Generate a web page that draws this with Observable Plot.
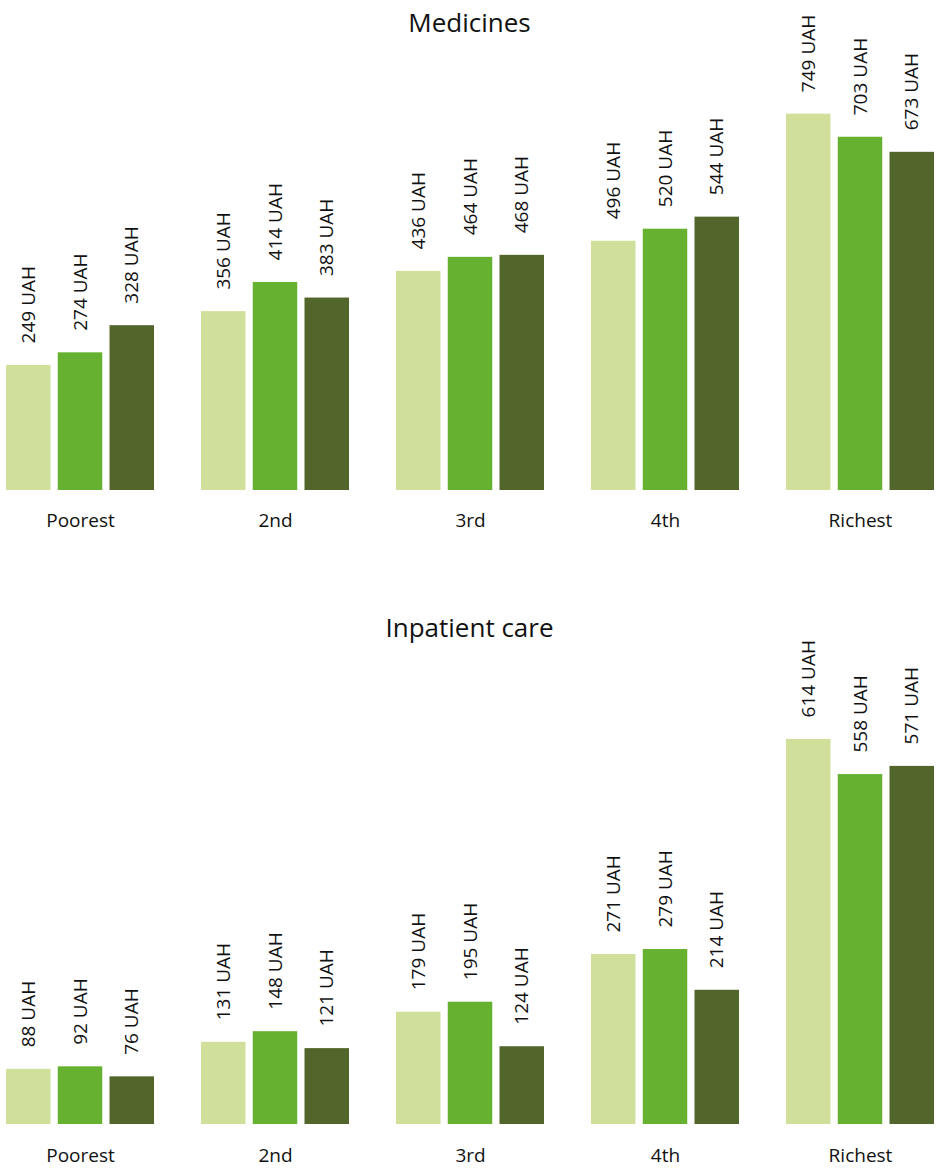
<!DOCTYPE html>
<html>
<head>
<meta charset="utf-8">
<script src="https://cdn.jsdelivr.net/npm/d3@7"></script>
<script src="https://cdn.jsdelivr.net/npm/@observablehq/plot@0.6"></script>
<style>
  body { margin: 0; background: #fff; font-family: "Open Sans", "Noto Sans", sans-serif; }
  #wrap { position: relative; width: 939px; }
  .title { position: absolute; left: 0; width: 939px; height: 44px; line-height: 44px; text-align: center; font-size: 26px; color: #111; pointer-events: none; }
  svg { display: block; }
</style>
</head>
<body>
<div id="wrap">
  <div class="title" style="top:0px">Medicines</div>
  <div class="title" style="top:605px">Inpatient care</div>
</div>
<script>
const groups = ["Poorest", "2nd", "3rd", "4th", "Richest"];
const series = ["Series 1", "Series 2", "Series 3"];
const colors = ["#d0e09b", "#66b230", "#52652b"];

const medicines1 = [249, 356, 436, 496, 749];
const medicines2 = [274, 414, 464, 520, 703];
const medicines3 = [328, 383, 468, 544, 673];

const inpatient1 = [88, 131, 179, 271, 614];
const inpatient2 = [92, 148, 195, 279, 558];
const inpatient3 = [76, 121, 124, 214, 571];

function table(arrs) {
  const rows = [];
  groups.forEach((g, i) => {
    arrs.forEach((a, j) => rows.push({group: g, series: series[j], value: a[i]}));
  });
  return rows;
}

function chart(data, yMax, height, marginTop, marginBottom, labelDy) {
  return Plot.plot({
    width: 939,
    height,
    marginLeft: 6,
    marginRight: 5,
    marginTop,
    marginBottom,
    style: {fontFamily: '"Open Sans", "Noto Sans", sans-serif', overflow: "visible"},
    fx: {domain: groups, paddingInner: 0.241, paddingOuter: 0, round: false, axis: null, label: null},
    x: {domain: series, paddingInner: 0.14, paddingOuter: 0, round: false, axis: null},
    y: {domain: [0, yMax], axis: null},
    color: {domain: series, range: colors},
    marks: [
      Plot.barY(data, {fx: "group", x: "series", y: "value", fill: "series"}),
      Plot.text(data, {
        fx: "group", x: "series", y: "value",
        text: d => `${d.value} UAH`,
        rotate: -90, textAnchor: "start", lineAnchor: "middle",
        dy: -22, fontSize: 19, fill: "#111"
      }),
      Plot.text(groups, {
        fx: d => d, text: d => d,
        frameAnchor: "bottom", lineAnchor: "middle",
        dy: labelDy, fontSize: 19, fill: "#111"
      })
    ]
  });
}

const wrap = document.getElementById("wrap");
const c1 = chart(table([medicines1, medicines2, medicines3]), 800, 560, 88, 70, 30);
const c2 = chart(table([inpatient1, inpatient2, inpatient3]), 700, 609, 125, 45, 31);
wrap.insertBefore(c1, wrap.firstChild);
wrap.insertBefore(c2, c1.nextSibling);
</script>
</body>
</html>
